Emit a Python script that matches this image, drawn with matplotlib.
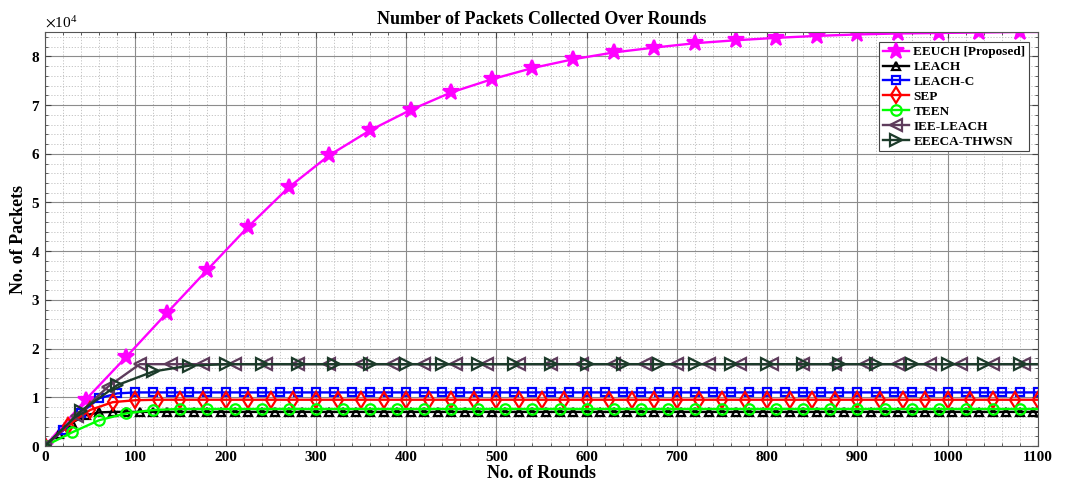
import numpy as np
import matplotlib
matplotlib.use("Agg")
import matplotlib.pyplot as plt
from matplotlib.ticker import MultipleLocator

plt.rcParams['font.family'] = ['Liberation Serif', 'DejaVu Serif']
plt.rcParams['mathtext.fontset'] = 'stix'

SCALE = 1e4  # values below are in units of 10^4 packets

# ---- data ----
series_names = ['EEUCH [Proposed]', 'LEACH', 'LEACH-C', 'SEP', 'TEEN', 'IEE-LEACH', 'EEECA-THWSN']

eeuch_rounds = list(range(0, 1081, 45)) + [1100]
eeuch_vals = [0, 0.95, 1.83, 2.73, 3.62, 4.50, 5.31, 5.97, 6.48, 6.90, 7.26, 7.53, 7.76,
              7.94, 8.08, 8.18, 8.27, 8.33, 8.38, 8.42, 8.45, 8.47, 8.48, 8.49, 8.50, 8.50]

leach_rounds = list(range(0, 1096, 15)) + [1100]
leach_vals = [0, 0.25, 0.48, 0.63, 0.69, 0.70, 0.70, 0.70, 0.70, 0.70,
              0.70, 0.70, 0.70, 0.70, 0.70, 0.70, 0.70, 0.70, 0.70, 0.70,
              0.70, 0.70, 0.70, 0.70, 0.70, 0.70, 0.70, 0.70, 0.70, 0.70,
              0.70, 0.70, 0.70, 0.70, 0.70, 0.70, 0.70, 0.70, 0.70, 0.70,
              0.70, 0.70, 0.70, 0.70, 0.70, 0.70, 0.70, 0.70, 0.70, 0.70,
              0.70, 0.70, 0.70, 0.70, 0.70, 0.70, 0.70, 0.70, 0.70, 0.70,
              0.70, 0.70, 0.70, 0.70, 0.70, 0.70, 0.70, 0.70, 0.70, 0.70,
              0.70, 0.70, 0.70, 0.70, 0.70]

leachc_rounds = list(range(0, 1101, 20))
leachc_vals = [0, 0.32, 0.68, 0.98, 1.08, 1.10, 1.10, 1.10, 1.10, 1.10,
               1.10, 1.10, 1.10, 1.10, 1.10, 1.10, 1.10, 1.10, 1.10, 1.10,
               1.10, 1.10, 1.10, 1.10, 1.10, 1.10, 1.10, 1.10, 1.10, 1.10,
               1.10, 1.10, 1.10, 1.10, 1.10, 1.10, 1.10, 1.10, 1.10, 1.10,
               1.10, 1.10, 1.10, 1.10, 1.10, 1.10, 1.10, 1.10, 1.10, 1.10,
               1.10, 1.10, 1.10, 1.10, 1.10, 1.10]

sep_rounds = list(range(0, 1101, 25))
sep_vals = [0, 0.42, 0.74, 0.90, 0.94, 0.95, 0.95, 0.95, 0.95, 0.95,
            0.95, 0.95, 0.95, 0.95, 0.95, 0.95, 0.95, 0.95, 0.95, 0.95,
            0.95, 0.95, 0.95, 0.95, 0.95, 0.95, 0.95, 0.95, 0.95, 0.95,
            0.95, 0.95, 0.95, 0.95, 0.95, 0.95, 0.95, 0.95, 0.95, 0.95,
            0.95, 0.95, 0.95, 0.95, 0.95]

teen_rounds = list(range(0, 1081, 30)) + [1100]
teen_vals = [0, 0.28, 0.53, 0.67, 0.74, 0.76, 0.76, 0.76, 0.76, 0.76,
             0.76, 0.76, 0.76, 0.76, 0.76, 0.76, 0.76, 0.76, 0.76, 0.76,
             0.76, 0.76, 0.76, 0.76, 0.76, 0.76, 0.76, 0.76, 0.76, 0.76,
             0.76, 0.76, 0.76, 0.76, 0.76, 0.76, 0.76, 0.76]

ieeleach_rounds = list(range(0, 1086, 35)) + [1100]
ieeleach_vals = [0, 0.62, 1.22, 1.68, 1.68, 1.68, 1.68, 1.68, 1.68, 1.68,
                 1.68, 1.68, 1.68, 1.68, 1.68, 1.68, 1.68, 1.68, 1.68, 1.68,
                 1.68, 1.68, 1.68, 1.68, 1.68, 1.68, 1.68, 1.68, 1.68, 1.68,
                 1.68, 1.68, 1.68]

eeeca_rounds = list(range(0, 1081, 40)) + [1100]
eeeca_vals = [0, 0.72, 1.25, 1.53, 1.65, 1.68, 1.68, 1.68, 1.68, 1.68,
              1.68, 1.68, 1.68, 1.68, 1.68, 1.68, 1.68, 1.68, 1.68, 1.68,
              1.68, 1.68, 1.68, 1.68, 1.68, 1.68, 1.68, 1.68, 1.68]

x_ticks = list(range(0, 1101, 100))
y_ticks = list(range(0, 9))

# ---- styles ----
styles = [
    dict(color='#FF00FF', marker='*', ms=12, mfc='#FF00FF', mec='#FF00FF'),
    dict(color='black', marker='^', ms=6, mfc='none', mec='black'),
    dict(color='#0000FF', marker='s', ms=6, mfc='none', mec='#0000FF'),
    dict(color='#FF0000', marker='d', ms=8, mfc='none', mec='#FF0000'),
    dict(color='#00FF00', marker='o', ms=7.5, mfc='none', mec='#00FF00'),
    dict(color='#5E3C5C', marker='<', ms=8, mfc='none', mec='#5E3C5C'),
    dict(color='#1C3B2A', marker='>', ms=8, mfc='none', mec='#1C3B2A'),
]

data = [
    (eeuch_rounds, eeuch_vals),
    (leach_rounds, leach_vals),
    (leachc_rounds, leachc_vals),
    (sep_rounds, sep_vals),
    (teen_rounds, teen_vals),
    (ieeleach_rounds, ieeleach_vals),
    (eeeca_rounds, eeeca_vals),
]

fig = plt.figure(figsize=(10.67, 4.87), dpi=100)
ax = fig.add_axes([45/1067, 41/487, 993/1067, 414/487])

for name, (r, v), st in zip(series_names, data, styles):
    r = np.array(r)
    v = np.array(v) * SCALE
    mk = [i for i, x in enumerate(r) if x % (r[1] - r[0]) == 0]
    ax.plot(r, v, label=name, lw=1.7, mew=1.6, markevery=mk, **st)

ax.set_xlim(0, 1100)
ax.set_ylim(0, 8.5 * SCALE)
ax.set_xticks(x_ticks)
ax.set_yticks([t * SCALE for t in y_ticks])
ax.xaxis.set_minor_locator(MultipleLocator(20))
ax.yaxis.set_minor_locator(MultipleLocator(0.2 * SCALE))
ax.ticklabel_format(axis='y', style='sci', scilimits=(4, 4), useMathText=True)

ax.grid(which='major', color='#8c8c8c', lw=0.8, ls='-')
ax.grid(which='minor', color='#bdbdbd', lw=0.6, ls=(0, (1.5, 2)))
ax.set_axisbelow(True)

ax.tick_params(which='both', direction='in', top=True, right=True, color='#444444')
ax.tick_params(which='major', length=4, labelsize=11)
ax.tick_params(which='minor', length=2)
for lbl in ax.get_xticklabels() + ax.get_yticklabels():
    lbl.set_fontweight('bold')
for sp in ax.spines.values():
    sp.set_color('#555555')
    sp.set_linewidth(0.8)

ot = ax.yaxis.get_offset_text()
ot.set_fontsize(11)

ax.set_title('Number of Packets Collected Over Rounds', fontsize=13, fontweight='bold', pad=6)
ax.set_xlabel('No. of Rounds', fontsize=13, fontweight='bold', labelpad=1)
ax.set_ylabel('No. of Packets', fontsize=13, fontweight='bold', labelpad=3)

leg = ax.legend(loc='upper right', bbox_to_anchor=(0.994, 0.982),
                prop={'weight': 'bold', 'size': 9.5}, fancybox=False, framealpha=1,
                edgecolor='#444444', handlelength=2.0, handletextpad=0.3,
                labelspacing=0.2, borderpad=0.3, borderaxespad=0.2)
leg.get_frame().set_linewidth(0.8)

fig.savefig('out.png', dpi=100)
